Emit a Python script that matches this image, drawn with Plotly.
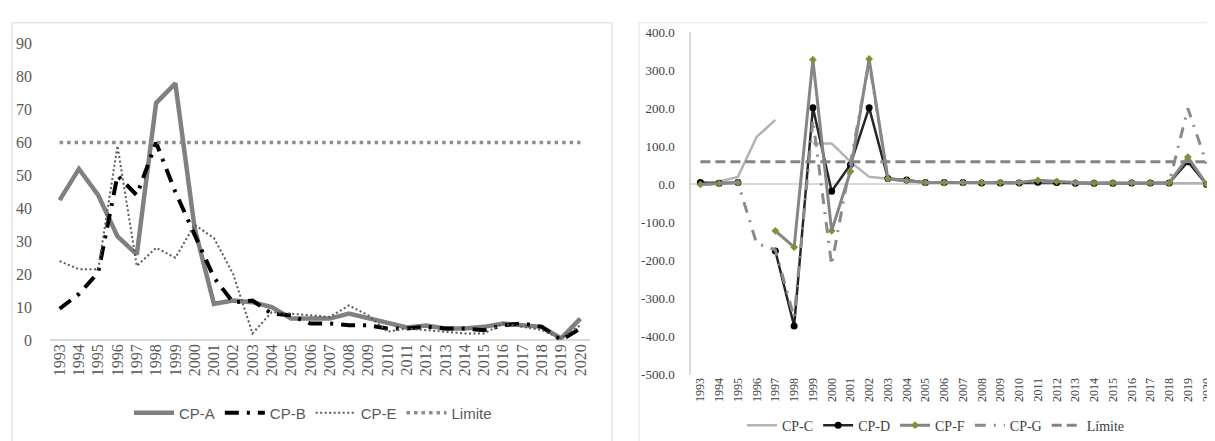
import plotly.graph_objects as go

years = [str(y) for y in range(1993, 2021)]

# Left panel series
cp_a = [42.5, 52, 44, 31.5, 26, 72, 78, 34, 11, 12, 11.5, 10, 6.5, 6.5, 6.5, 8, 6.5, 5, 3.8, 4.4, 3.5, 3.5, 4, 5, 4.5, 4, 0.5, 6.5]
cp_b = [9.5, 14, 20.5, 50, 44, 60, 45, 32, 19, 11.4, 12, 8, 7.5, 5, 5, 4.5, 4.5, 3.5, 3.5, 4, 3.5, 3.5, 3, 4.5, 5, 4, 0, 3.5]
cp_e = [24, 21.5, 21.5, 59, 22.5, 28, 25, 35, 31, 20, 2, 8.5, 8, 7.5, 7, 10.5, 7.5, 2.5, 3.5, 3, 2.5, 2, 2, 5, 4, 3, 0.5, 4.5]
limite_left = [60] * 28
left_yticks = [0, 10, 20, 30, 40, 50, 60, 70, 80, 90]

# Right panel series
cp_c = [0, 8, 20, 125, 170, None, 108, 108, 60, 20, 15, 8, 6, 5, 5, 4, 4, 3, 3, 3, 3, 3, 3, 3, 3, 3, 3, 3]
cp_d = [5, 3, 5, None, -175, -372, 202, -18, 52, 202, 16, 12, 5, 5, 5, 4, 4, 4, 6, 5, 3, 3, 3, 4, 4, 4, 60, 0]
cp_f = [0, 3, 5, None, -122, -165, 328, -122, 34, 330, 15, 10, 5, 5, 5, 5, 5, 5, 11, 8, 5, 4, 4, 5, 4, 4, 72, 0]
cp_g = [0, 3, 5, -155, -172, -350, 170, -212, 50, 322, 15, 10, 5, 5, 5, 5, 5, 5, 8, 6, 4, 4, 4, 5, 4, 4, 200, 55]
limite_right = [60] * 28
right_yticks = [400, 300, 200, 100, 0, -100, -200, -300, -400, -500]
right_yticktext = ["400.0", "300.0", "200.0", "100.0", "0.0", "-100.0", "-200.0", "-300.0", "-400.0", "-500.0"]

W, H = 1215, 441

def px_x(p):
    return p / W

def px_y(p):
    return 1 - p / H

fig = go.Figure()

# ---- left panel traces
fig.add_trace(go.Scatter(x=years, y=cp_a, name="CP-A", mode="lines",
                         line=dict(color="#808080", width=4.5),
                         xaxis="x", yaxis="y", legend="legend"))
fig.add_trace(go.Scatter(x=years, y=cp_b, name="CP-B", mode="lines",
                         line=dict(color="#000000", width=4, dash="14px,8px,3px,8px"),
                         xaxis="x", yaxis="y", legend="legend"))
fig.add_trace(go.Scatter(x=years, y=cp_e, name="CP-E", mode="lines",
                         line=dict(color="#595959", width=2, dash="2px,2.5px"),
                         xaxis="x", yaxis="y", legend="legend"))
fig.add_trace(go.Scatter(x=years, y=limite_left, name="Limite", mode="lines",
                         line=dict(color="#8c8c8c", width=3.5, dash="3.5px,4px"),
                         xaxis="x", yaxis="y", legend="legend"))

# ---- right panel traces
fig.add_trace(go.Scatter(x=years, y=cp_c, name="CP-C", mode="lines",
                         line=dict(color="#b3b3b3", width=2.5),
                         connectgaps=False,
                         xaxis="x2", yaxis="y2", legend="legend2"))
fig.add_trace(go.Scatter(x=years, y=cp_d, name="CP-D", mode="lines+markers",
                         line=dict(color="#262626", width=2.5),
                         marker=dict(color="#000000", size=7, symbol="circle"),
                         connectgaps=False,
                         xaxis="x2", yaxis="y2", legend="legend2"))
fig.add_trace(go.Scatter(x=years, y=cp_f, name="CP-F", mode="lines+markers",
                         line=dict(color="#858585", width=3),
                         marker=dict(color="#77933c", size=6, symbol="diamond"),
                         connectgaps=False,
                         xaxis="x2", yaxis="y2", legend="legend2"))
fig.add_trace(go.Scatter(x=years, y=cp_g, name="CP-G", mode="lines",
                         line=dict(color="#8a8a8a", width=3, dash="11px,8px,2px,8px"),
                         xaxis="x2", yaxis="y2", legend="legend2"))
fig.add_trace(go.Scatter(x=years, y=limite_right, name="Límite", mode="lines",
                         line=dict(color="#858585", width=3, dash="10px,5px"),
                         xaxis="x2", yaxis="y2", legend="legend2"))

serif = "Liberation Serif"
narrow = "Liberation Sans Narrow, Liberation Sans, sans-serif"

fig.update_layout(
    width=W, height=H,
    margin=dict(l=0, r=0, t=0, b=0),
    paper_bgcolor="white", plot_bgcolor="white",
    showlegend=True,
    xaxis=dict(domain=[px_x(42), px_x(582)], type="category", range=[-0.5, 27.5],
               tickangle=-90, showgrid=False, zeroline=False, showline=False,
               ticks="", tickfont=dict(family=serif, size=16, color="#595959"),
               anchor="y"),
    yaxis=dict(domain=[px_y(337), px_y(29)], range=[0, 90], tickvals=left_yticks,
               showgrid=False, zeroline=True, zerolinecolor="#d9d9d9", zerolinewidth=1.5,
               showline=False, ticks="", ticklabelstandoff=17,
               tickfont=dict(family=serif, size=16, color="#595959"), anchor="x"),
    xaxis2=dict(domain=[px_x(683), px_x(1208)], type="category", range=[-0.5, 27.5],
                tickangle=-90, showgrid=False, zeroline=False, showline=False,
                ticks="", tickfont=dict(family=serif, size=12, color="#404040"),
                anchor="y2"),
    yaxis2=dict(domain=[px_y(373), px_y(17)], range=[-500, 400], tickvals=right_yticks,
                ticktext=right_yticktext,
                showgrid=False, zeroline=True, zerolinecolor="#d9d9d9", zerolinewidth=1.5,
                showline=True, linecolor="#d9d9d9", linewidth=1.5, ticks="",
                ticklabelstandoff=12,
                tickfont=dict(family=serif, size=13, color="#404040"), anchor="x2"),
    legend=dict(orientation="h", x=px_x(305), xanchor="center", y=px_y(413), yanchor="middle",
                font=dict(family=narrow, size=15, color="#595959"),
                bgcolor="rgba(0,0,0,0)", itemwidth=40),
    legend2=dict(orientation="h", x=px_x(928), xanchor="center", y=px_y(426), yanchor="middle",
                 font=dict(family=serif, size=14, color="#404040"),
                 bgcolor="rgba(0,0,0,0)", itemwidth=30),
    shapes=[
        dict(type="rect", xref="paper", yref="paper", x0=px_x(4), x1=px_x(604),
             y0=px_y(445), y1=px_y(7), line=dict(color="#d9d9d9", width=1.2), layer="below"),
        dict(type="rect", xref="paper", yref="paper", x0=px_x(631), x1=px_x(1220),
             y0=px_y(445), y1=px_y(7), line=dict(color="#e6e6e6", width=1.2), layer="below"),
    ],
)

fig.write_html("out.html")
